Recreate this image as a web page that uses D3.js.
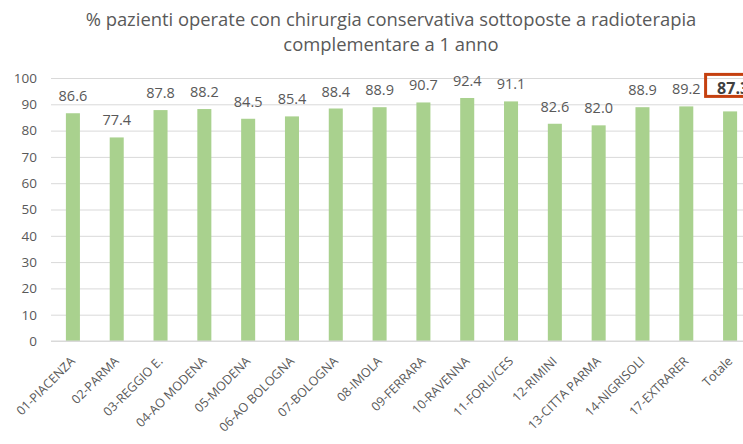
<!DOCTYPE html>
<html>
<head>
<meta charset="utf-8">
<script src="https://cdn.jsdelivr.net/npm/d3@7"></script>
<style>
  body { margin: 0; background: #fff; }
  text { font-family: "Open Sans", sans-serif; }
</style>
</head>
<body>
<svg id="chart" width="743" height="444"></svg>
<script>
// chart data
var categories = ["01-PIACENZA", "02-PARMA", "03-REGGIO E.", "04-AO MODENA", "05-MODENA", "06-AO BOLOGNA",
    "07-BOLOGNA", "08-IMOLA", "09-FERRARA", "10-RAVENNA", "11-FORLI/CES", "12-RIMINI",
    "13-CITTA PARMA", "14-NIGRISOLI", "17-EXTRARER", "Totale"];
var values = [86.6, 77.4, 87.8, 88.2, 84.5, 85.4, 88.4, 88.9, 90.7, 92.4, 91.1, 82.6, 82.0, 88.9, 89.2, 87.3];
var yTicks = [0, 10, 20, 30, 40, 50, 60, 70, 80, 90, 100];
var titleLines = ["% pazienti operate con chirurgia conservativa sottoposte a radioterapia",
    "complementare a 1 anno"];

var svg = d3.select("#chart");
var plotL = 51, plotR = 752, plotT = 78, plotB = 341;
var nLast = values.length - 1;

var x = d3.scaleBand().domain(categories).range([plotL, plotR]).paddingInner(0.68).paddingOuter(0.34);
var y = d3.scaleLinear().domain([0, 100]).range([plotB, plotT]);

// title
svg.append("g").selectAll("text")
    .data(titleLines)
    .enter().append("text")
    .attr("x", 391)
    .attr("y", function (d, i) { return 26 + i * 25; })
    .attr("text-anchor", "middle")
    .style("font-size", "18.4px")
    .style("fill", "#595959")
    .text(function (d) { return d; });

// gridlines + y labels
var yAxis = d3.axisLeft(y).tickValues(yTicks).tickSize(-(plotR - plotL)).tickPadding(12);
var gy = svg.append("g").attr("transform", "translate(" + plotL + ",0)").call(yAxis);
gy.select(".domain").remove();
gy.selectAll(".tick line").attr("stroke", "#d9d9d9");
gy.selectAll(".tick text").style("font-size", "13.5px").style("fill", "#595959")
    .style("font-family", "'Open Sans', sans-serif").attr("x", -14);

// bars
svg.append("g").selectAll("rect")
    .data(values)
    .enter().append("rect")
    .attr("x", function (d, i) { return x(categories[i]); })
    .attr("y", function (d) { return y(d); })
    .attr("width", x.bandwidth())
    .attr("height", function (d) { return y(0) - y(d); })
    .style("fill", "#a9d18e");

// value labels (the total one is bigger, bold and sits in a box)
svg.append("g").selectAll("text")
    .data(values)
    .enter().append("text")
    .attr("x", function (d, i) { return x(categories[i]) + x.bandwidth() / 2 + (i == nLast ? 3 : 0); })
    .attr("y", function (d, i) { return y(d) - (i == nLast ? 17 : 12); })
    .attr("text-anchor", "middle")
    .style("font-size", function (d, i) { return i == nLast ? "16px" : "14.5px"; })
    .style("fill", function (d, i) { return i == nLast ? "#404040" : "#595959"; })
    .style("font-weight", function (d, i) { return i == nLast ? "bold" : "normal"; })
    .text(function (d) { return d.toFixed(1); });

var last = categories[nLast];
svg.append("rect")
    .attr("x", x(last) + x.bandwidth() / 2 - 24.5)
    .attr("y", y(values[nLast]) - 37)
    .attr("width", 60)
    .attr("height", 22)
    .style("fill", "none")
    .style("stroke", "#c5400f")
    .style("stroke-width", 3);

// x axis line and rotated labels
svg.append("line")
    .attr("x1", plotL).attr("x2", plotR)
    .attr("y1", y(0)).attr("y2", y(0))
    .attr("stroke", "#d9d9d9");

svg.append("g").selectAll("text")
    .data(categories)
    .enter().append("text")
    .attr("transform", function (d) {
        return "translate(" + (x(d) + x.bandwidth() / 2 + 3) + "," + (y(0) + 21) + ") rotate(-45)";
    })
    .attr("text-anchor", "end")
    .style("font-size", "12.5px")
    .style("fill", "#595959")
    .text(function (d) { return d; });
</script>
</body>
</html>
